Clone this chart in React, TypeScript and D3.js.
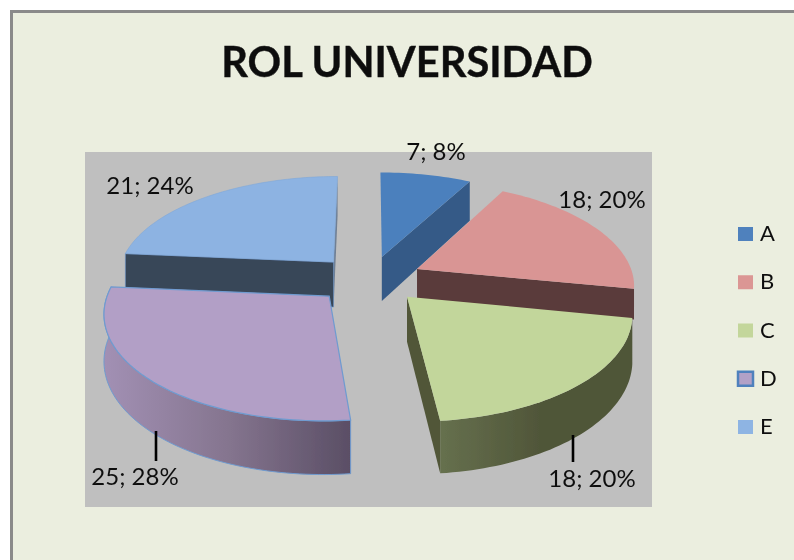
import React from "react";
import * as d3 from "d3";

const categories = ["A", "B", "C", "D", "E"];
const values = [7, 18, 18, 25, 21];
const percents = ["8%", "20%", "20%", "28%", "24%"];
const topColors = ["#4b80bd", "#d99594", "#c2d69b", "#b29fc6", "#8db3e2"];
const legendColors = ["#4f81bd", "#db9694", "#c3d69b", "#b2a1c7", "#8eb4e3"];
const faceColors = ["#345a87", "#5a3a3a", "#515639", "#5b4f66", "#394658"];
const sliceDepths = [44, 30, 45, 46, 45];
const labelAnchors: [number, number][] = [[436, 160], [602, 208], [592, 487], [135, 485], [150, 194]];
const leaders: [number, number, number][] = [[573, 435, 462], [156, 431, 461]];
const sliceShiftX = [0, 2.5, 2.5, -5, -3.5];

const CX = 370, CY = 279, RX = 217, RY = 102, PERSP = 0.14, EXPLODE = 0.23;
const scale = (v: number) => 1 / (1 + PERSP * v);
const toX = d3.scaleLinear().domain([0, 1]).range([CX, CX + RX]);
const toY = d3.scaleLinear().domain([0, 1]).range([CY, CY - RY]);

const pieGen = d3.pie<number>().sort(null).startAngle(0).endAngle(2 * Math.PI);
const arcs = pieGen(values);
const line = d3.line<[number, number]>().curve(d3.curveLinear);
const legendY = d3.scalePoint<string>().domain(categories).range([234, 427]);

function project(i: number, angle: number | null) {
  const a = arcs[i];
  const mid = (a.startAngle + a.endAngle) / 2;
  const apexU = EXPLODE * Math.sin(mid), apexV = EXPLODE * Math.cos(mid);
  const u = apexU + (angle === null ? 0 : Math.sin(angle));
  const v = apexV + (angle === null ? 0 : Math.cos(angle));
  const s = scale(v);
  const x = toX(u * s) + sliceShiftX[i], y = toY(v * s);
  const dep = sliceDepths[i] * s / scale(apexV);
  return { top: [x, y] as [number, number], bottom: [x, y + dep] as [number, number] };
}

function rim(i: number, a0: number, a1: number) {
  const n = Math.max(8, Math.ceil(Math.abs(a1 - a0) * 40));
  return d3.range(n + 1).map((k) => a0 + ((a1 - a0) * k) / n);
}

function topPath(i: number) {
  const a = arcs[i];
  const pts = [project(i, null).top, ...rim(i, a.startAngle, a.endAngle).map((t) => project(i, t).top)];
  return line(pts)! + "Z";
}
function radialFace(i: number, angle: number) {
  const ap = project(i, null), e = project(i, angle);
  return line([ap.top, e.top, e.bottom, ap.bottom])! + "Z";
}
function rimFace(i: number, a0: number, a1: number) {
  const ts = rim(i, a0, a1);
  return line([...ts.map((t) => project(i, t).top), ...ts.slice().reverse().map((t) => project(i, t).bottom)])! + "Z";
}

const FONT = "Lato, 'Open Sans', sans-serif";

export default function App() {
  const [A, B, C, D, E] = arcs;
  return (
    <svg width={794} height={560} style={{ position: "absolute", left: 0, top: 0 }} fontFamily={FONT}>
      <defs>
        <filter id="soft" x="-5%" y="-5%" width="110%" height="110%">
          <feGaussianBlur stdDeviation="0.45" />
        </filter>
        <linearGradient id="gradC" gradientUnits="userSpaceOnUse" x1={440} x2={540} y1={0} y2={0}>
          <stop offset="0" stopColor="#66704e" />
          <stop offset="1" stopColor="#505639" />
        </linearGradient>
        <linearGradient id="gradD" gradientUnits="userSpaceOnUse" x1={104} x2={351} y1={0} y2={0}>
          <stop offset="0" stopColor="#a290b4" />
          <stop offset="0.5" stopColor="#85758f" />
          <stop offset="1" stopColor="#5a4e65" />
        </linearGradient>
      </defs>
      <rect width={794} height={560} fill="#ffffff" />
      <g filter="url(#soft)">
        <rect x={11.5} y={11.5} width={800} height={600} fill="#ebeedf" stroke="#8a8a8a" strokeWidth={3} />
        <rect x={85} y={152} width={567} height={355} fill="#bfbfbf" />
        <text x={407} y={77} textAnchor="middle" fontSize={41.6} fontWeight={700} fill="#111" stroke="#111" strokeWidth={0.4}>ROL UNIVERSIDAD</text>

        {/* A */}
        <path d={radialFace(0, A.endAngle)} fill={faceColors[0]} />
        <path d={topPath(0)} fill={topColors[0]} />
        {/* E */}
        <path d={radialFace(4, E.endAngle)} fill="#6f7f94" />
        <path d={radialFace(4, E.startAngle)} fill={faceColors[4]} stroke="#6f9bd0" strokeWidth={0.6} />
        <path d={topPath(4)} fill={topColors[4]} stroke="#7fa8d8" strokeWidth={0.6} />
        {/* B */}
        <path d={radialFace(1, B.endAngle)} fill={faceColors[1]} />
        <path d={topPath(1)} fill={topColors[1]} />
        {/* D */}
        <path d={rimFace(3, D.startAngle, D.endAngle)} fill="url(#gradD)" stroke="#6f9bd0" strokeWidth={1} />
        <path d={topPath(3)} fill={topColors[3]} stroke="#6f9bd0" strokeWidth={1.2} />
        {/* C */}
        <path d={radialFace(2, C.endAngle)} fill={faceColors[2]} />
        <path d={rimFace(2, C.startAngle, C.endAngle)} fill="url(#gradC)" />
        <path d={topPath(2)} fill={topColors[2]} />

        {leaders.map(([x, y0, y1], i) => (
          <line key={i} x1={x} x2={x} y1={y0} y2={y1} stroke="#000" strokeWidth={2.6} />
        ))}
        {values.map((v, i) => (
          <text key={i} x={labelAnchors[i][0]} y={labelAnchors[i][1]} textAnchor="middle" fontSize={24} fill="#111">
            {`${v}; ${percents[i]}`}
          </text>
        ))}
        {categories.map((c, i) => {
          const y = legendY(c)!;
          return (
            <g key={c}>
              <rect x={738} y={y - 7} width={15} height={14} fill={legendColors[i]}
                stroke={c === "D" ? "#4f81bd" : "none"} strokeWidth={c === "D" ? 2.5 : 0} />
              <text x={760} y={y + 7} fontSize={22} fill="#111">{c}</text>
            </g>
          );
        })}
      </g>
    </svg>
  );
}
